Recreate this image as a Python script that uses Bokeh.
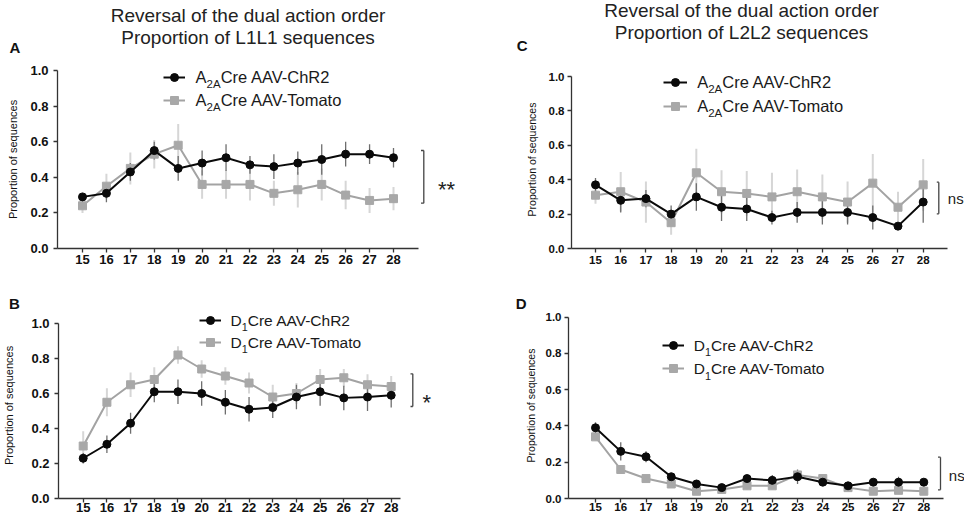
import math
from bokeh.plotting import figure
from bokeh.layouts import row, column
from bokeh.models import (Range1d, FixedTicker, NumeralTickFormatter, Label,
                          Legend, LegendItem, ColumnDataSource)
from bokeh.embed import file_html
from bokeh.resources import INLINE

# ---------------- data ----------------
sessions = [15, 16, 17, 18, 19, 20, 21, 22, 23, 24, 25, 26, 27, 28]
y_ticks = [0.0, 0.2, 0.4, 0.6, 0.8, 1.0]

# Panel A: L1L1, A2ACre
a_chr2 = [0.29, 0.31, 0.43, 0.55, 0.45, 0.48, 0.51, 0.47, 0.46, 0.48, 0.50, 0.53, 0.53, 0.51]
a_chr2_sem = [0.02, 0.05, 0.05, 0.05, 0.07, 0.07, 0.075, 0.05, 0.07, 0.065, 0.085, 0.07, 0.055, 0.055]
a_tom = [0.24, 0.35, 0.45, 0.53, 0.58, 0.36, 0.36, 0.36, 0.31, 0.33, 0.36, 0.30, 0.27, 0.28]
a_tom_sem = [0.04, 0.07, 0.09, 0.08, 0.12, 0.08, 0.08, 0.09, 0.07, 0.10, 0.09, 0.08, 0.07, 0.065]

# Panel B: L1L1, D1Cre
b_chr2 = [0.23, 0.31, 0.43, 0.61, 0.61, 0.60, 0.55, 0.51, 0.52, 0.58, 0.61, 0.575, 0.58, 0.59]
b_chr2_sem = [0.03, 0.05, 0.06, 0.06, 0.07, 0.07, 0.07, 0.07, 0.06, 0.07, 0.08, 0.07, 0.08, 0.07]
b_tom = [0.30, 0.55, 0.65, 0.68, 0.82, 0.74, 0.70, 0.66, 0.58, 0.60, 0.68, 0.69, 0.65, 0.64]
b_tom_sem = [0.085, 0.08, 0.07, 0.07, 0.05, 0.05, 0.05, 0.06, 0.07, 0.06, 0.06, 0.05, 0.06, 0.06]

# Panel C: L2L2, A2ACre
c_chr2 = [0.37, 0.28, 0.29, 0.20, 0.30, 0.24, 0.23, 0.18, 0.21, 0.21, 0.21, 0.18, 0.13, 0.27]
c_chr2_sem = [0.04, 0.07, 0.05, 0.05, 0.08, 0.08, 0.07, 0.04, 0.06, 0.07, 0.07, 0.07, 0.02, 0.12]
c_tom = [0.31, 0.33, 0.27, 0.15, 0.44, 0.33, 0.32, 0.30, 0.33, 0.30, 0.27, 0.38, 0.24, 0.37]
c_tom_sem = [0.05, 0.115, 0.12, 0.07, 0.14, 0.125, 0.13, 0.14, 0.13, 0.13, 0.12, 0.17, 0.09, 0.15]

# Panel D: L2L2, D1Cre
d_chr2 = [0.39, 0.26, 0.23, 0.12, 0.08, 0.06, 0.11, 0.10, 0.12, 0.09, 0.07, 0.09, 0.09, 0.09]
d_chr2_sem = [0.03, 0.05, 0.03, 0.02, 0.02, 0.01, 0.02, 0.03, 0.04, 0.02, 0.02, 0.02, 0.03, 0.02]
d_tom = [0.34, 0.16, 0.11, 0.08, 0.04, 0.05, 0.07, 0.07, 0.13, 0.11, 0.06, 0.04, 0.045, 0.04]
d_tom_sem = [0.02, 0.02, 0.02, 0.02, 0.01, 0.01, 0.02, 0.02, 0.02, 0.02, 0.02, 0.01, 0.01, 0.01]

title_left = ["Reversal of the dual action order", "Proportion of L1L1 sequences"]
title_right = ["Reversal of the dual action order", "Proportion of L2L2 sequences"]
y_label = "Proportion of sequences"
legend_a2a = [("A", "2A", "Cre AAV-ChR2"), ("A", "2A", "Cre AAV-Tomato")]
legend_d1 = [("D", "1", "Cre AAV-ChR2"), ("D", "1", "Cre AAV-Tomato")]
panel_letters = ["A", "B", "C", "D"]
significance = ["**", "*", "ns", "ns"]

# ---------------- layout / style ----------------
FONT = "Liberation Sans"
CHAR_W = {"A": 0.667, "D": 0.722, "2": 0.556, "1": 0.556}
W_TOTAL = 964
HEAD_TOP = (0, 58)      # y extent of header strip with titles, letters A/C
HEAD_MID = (290, 312)   # y extent of strip with letters B/D

# pixel geometry of each panel; panels sharing a row share frame top/bottom
CFG = {
    "A": dict(fx=0, fy=58, w=480, h=232, frame_l=57, frame_r=480, frame_t=70,
              x15=82, x28=393, y0=248, y1=70, axis_end=418,
              tick_size="13px", xstand=2, ystand=5, lab_size="11px", lab_stand=8,
              leg=(163, 185, 195, 76.5, 99.5), leg_fs=16.5,
              br=(423.3, 420.5, 150, 202.7), sig=(446, 176.7, "center", 22)),
    "C": dict(fx=480, fy=58, w=484, h=232, frame_l=571, frame_r=964, frame_t=70,
              x15=595, x28=922.7, y0=248, y1=76, axis_end=946.7,
              tick_size="11.5px", xstand=3, ystand=3, lab_size="10.5px", lab_stand=8,
              leg=(663, 687, 696.7, 81.5, 105.5), leg_fs=16.5,
              br=(938.3, 936.3, 181.7, 213.3), sig=(947.3, 198.3, "left", 15)),
    "B": dict(fx=0, fy=312, w=480, h=206, frame_l=58, frame_r=480, frame_t=312,
              x15=82.7, x28=390.7, y0=498, y1=323, axis_end=400,
              tick_size="13px", xstand=0, ystand=5, lab_size="11px", lab_stand=13,
              leg=(199.3, 221.7, 230, 320, 341.7), leg_fs=15.5,
              br=(412.3, 410, 373.3, 406), sig=(426.3, 390, "center", 22)),
    "D": dict(fx=480, fy=312, w=484, h=206, frame_l=568, frame_r=964, frame_t=312,
              x15=595, x28=923.3, y0=498, y1=316.7, axis_end=943,
              tick_size="11.5px", xstand=0, ystand=3, lab_size="10.5px", lab_stand=6,
              leg=(661.7, 684, 693.3, 345, 368.3), leg_fs=15.5,
              br=(940, 937.5, 456.7, 489.3), sig=(948.3, 475, "left", 15)),
}


def header(y_extent, texts):
    y_top, y_bot = y_extent
    h = figure(width=W_TOTAL, height=y_bot - y_top, x_range=Range1d(0, W_TOTAL),
               y_range=Range1d(y_bot, y_top), x_axis_location=None, y_axis_location=None,
               min_border=0, toolbar_location=None, title_location=None,
               output_backend="svg")
    h.grid.visible = False
    h.outline_line_color = None
    h.background_fill_color = "white"
    h.border_fill_color = "white"
    for x, y, txt, size, style, color in texts:
        h.add_layout(Label(x=x, y=y, text=txt, text_font=FONT, text_font_size=size,
                           text_font_style=style, text_color=color,
                           text_align="center", text_baseline="middle"))
    return h


def build(key, chr2, chr2_sem, tom, tom_sem, legend_parts, sig):
    c = CFG[key]
    ppu = (c["x28"] - c["x15"]) / 13.0

    def dx(px):
        return 15 + (px - c["x15"]) / ppu

    def dy(py):
        return (c["y0"] - py) / (c["y0"] - c["y1"])

    x_start, x_end = dx(c["frame_l"]), dx(c["frame_r"])
    y_end = dy(c["frame_t"])
    bt = round(c["frame_t"] - c["fy"])
    bb = round(c["fy"] + c["h"] - c["y0"])
    bl = round(c["frame_l"] - c["fx"])
    brd = round(c["fx"] + c["w"] - c["frame_r"])
    p = figure(width=c["w"], height=c["h"], x_range=Range1d(x_start, x_end),
               y_range=Range1d(0, y_end), min_border_left=bl, min_border_right=brd,
               min_border_top=bt, min_border_bottom=bb, title_location=None,
               toolbar_location=None, output_backend="svg")
    p.grid.visible = False
    p.outline_line_color = None
    p.background_fill_color = "white"
    p.border_fill_color = "white"

    xa, ya = p.xaxis[0], p.yaxis[0]
    xa.ticker = FixedTicker(ticks=sessions)
    xa.bounds = (x_start, dx(c["axis_end"]))
    ya.ticker = FixedTicker(ticks=y_ticks)
    ya.formatter = NumeralTickFormatter(format="0.0")
    ya.bounds = (0, 1)
    for ax in (xa, ya):
        ax.axis_line_color = "#333333"
        ax.axis_line_width = 1.3
        ax.major_tick_line_color = "#333333"
        ax.major_tick_line_width = 1.3
        ax.major_tick_in = 0
        ax.major_tick_out = 4
        ax.minor_tick_line_color = None
        ax.major_label_text_font = FONT
        ax.major_label_text_font_style = "bold"
        ax.major_label_text_font_size = c["tick_size"]
        ax.major_label_text_color = "#111111"
    xa.major_label_standoff = c["xstand"]
    ya.major_label_standoff = c["ystand"]
    ya.axis_label = y_label
    ya.axis_label_text_font = FONT
    ya.axis_label_text_font_style = "normal"
    ya.axis_label_text_font_size = c["lab_size"]
    ya.axis_label_text_color = "#111111"
    ya.axis_label_standoff = c["lab_stand"]

    src_t = ColumnDataSource(dict(x=sessions, y=tom,
                                  lo=[v - s for v, s in zip(tom, tom_sem)],
                                  hi=[v + s for v, s in zip(tom, tom_sem)]))
    src_c = ColumnDataSource(dict(x=sessions, y=chr2,
                                  lo=[v - s for v, s in zip(chr2, chr2_sem)],
                                  hi=[v + s for v, s in zip(chr2, chr2_sem)]))
    p.segment("x", "lo", "x", "hi", source=src_t, line_color="#d6d6d6", line_width=2)
    p.segment("x", "lo", "x", "hi", source=src_c, line_color="#6e6e6e", line_width=1.3)
    lt = p.line("x", "y", source=src_t, line_color="#a3a3a3", line_width=2)
    st = p.scatter("x", "y", source=src_t, marker="square", size=8,
                   fill_color="#a8a8a8", line_color="#a8a8a8")
    lc = p.line("x", "y", source=src_c, line_color="#0a0a0a", line_width=2)
    sc = p.scatter("x", "y", source=src_c, marker="circle", size=8,
                   fill_color="#0a0a0a", line_color="#0a0a0a")

    gl, gr, tx, r1, r2 = c["leg"]
    leg = Legend(items=[LegendItem(label=" ", renderers=[lc, sc]),
                        LegendItem(label=" ", renderers=[lt, st])],
                 location=(gl - c["frame_l"], c["y0"] - (r2 + 10)),
                 glyph_width=round(gr - gl), glyph_height=20,
                 spacing=max(0, round(r2 - r1 - 20)), padding=0, margin=0,
                 border_line_color=None, background_fill_alpha=0,
                 label_standoff=0, label_width=1, label_height=20,
                 label_text_font_size="1px")
    p.add_layout(leg)

    fs = c["leg_fs"]
    sub_fs = fs * 0.7
    for (main, sub, rest), ry in zip(legend_parts, [r1, r2]):
        x1 = tx + CHAR_W[main] * fs
        x2 = x1 + sum(CHAR_W[ch] for ch in sub) * sub_fs
        for xx, yy, txt, size in ((tx, ry, main, fs), (x1, ry + 0.45 * fs, sub, sub_fs),
                                  (x2, ry, rest, fs)):
            p.add_layout(Label(x=dx(xx), y=dy(yy), text=txt, text_font=FONT,
                               text_font_size=f"{size:.1f}px", text_color="#1a1a1a",
                               text_align="left", text_baseline="middle"))

    # significance bracket
    bx, tkx, btop, bbot = c["br"]
    p.segment(x0=[dx(bx), dx(tkx), dx(tkx)], y0=[dy(btop), dy(btop), dy(bbot)],
              x1=[dx(bx), dx(bx), dx(bx)], y1=[dy(bbot), dy(btop), dy(bbot)],
              line_color="#444444", line_width=1.3)
    sx_, sy_, salign, sfs = c["sig"]
    if sig.startswith("*"):
        p.add_layout(Label(x=dx(sx_), y=dy(sy_ + 0.56 * sfs), text=sig, text_font=FONT,
                           text_font_size=f"{sfs}px", text_color="#222222",
                           text_align=salign, text_baseline="alphabetic"))
    else:
        p.add_layout(Label(x=dx(sx_), y=dy(sy_), text=sig, text_font=FONT,
                           text_font_size=f"{sfs}px", text_color="#222222",
                           text_align=salign, text_baseline="middle"))
    return p


head_top = header(HEAD_TOP, [
    (247.5, 15, title_left[0], "19px", "normal", "#222222"),
    (247.5, 37, title_left[1], "19px", "normal", "#222222"),
    (741, 10, title_right[0], "19px", "normal", "#222222"),
    (741, 32, title_right[1], "19px", "normal", "#222222"),
    (14.5, 47, panel_letters[0], "15px", "bold", "#111111"),
    (521.7, 45, panel_letters[2], "15px", "bold", "#111111"),
])
head_mid = header(HEAD_MID, [
    (14, 303, panel_letters[1], "15px", "bold", "#111111"),
    (520.7, 302.5, panel_letters[3], "15px", "bold", "#111111"),
])

pA = build("A", a_chr2, a_chr2_sem, a_tom, a_tom_sem, legend_a2a, significance[0])
pB = build("B", b_chr2, b_chr2_sem, b_tom, b_tom_sem, legend_d1, significance[1])
pC = build("C", c_chr2, c_chr2_sem, c_tom, c_tom_sem, legend_a2a, significance[2])
pD = build("D", d_chr2, d_chr2_sem, d_tom, d_tom_sem, legend_d1, significance[3])

layout = column(head_top, row(pA, pC, spacing=0), head_mid, row(pB, pD, spacing=0), spacing=0)

with open("out.html", "w") as f:
    f.write(file_html(layout, INLINE, "Reversal of the dual action order"))
